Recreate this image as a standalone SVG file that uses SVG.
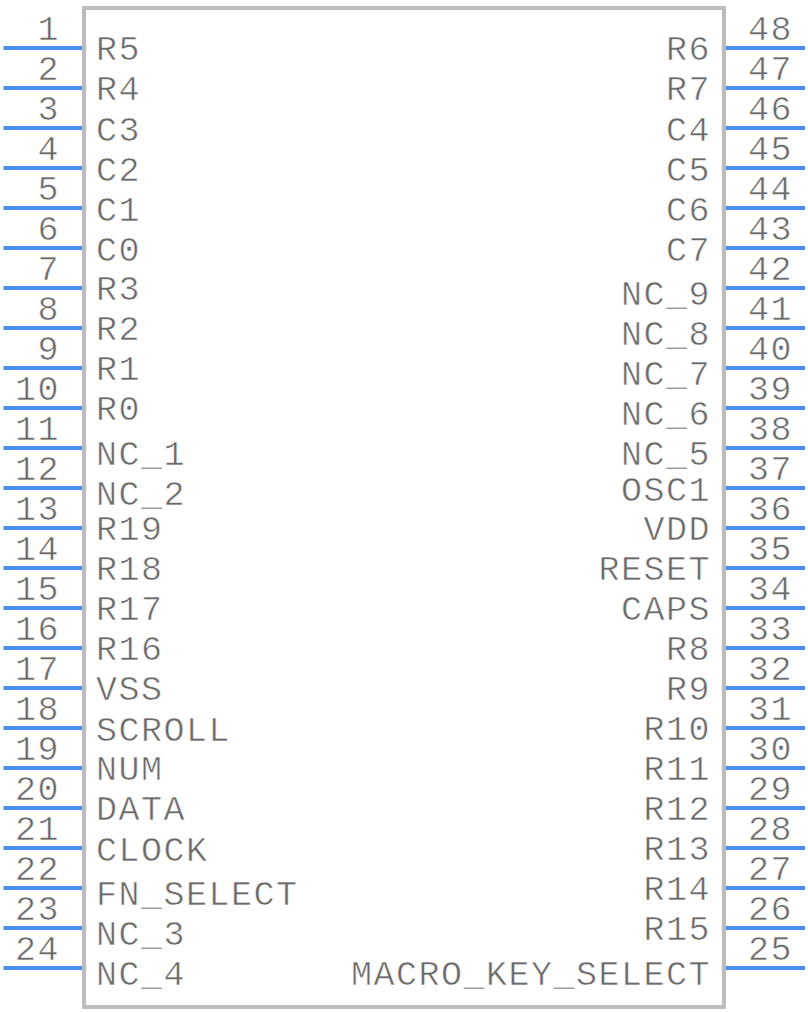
<svg xmlns="http://www.w3.org/2000/svg" width="808" height="1012" viewBox="0 0 808 1012">
<style>
text{font-family:"Liberation Mono",monospace;font-size:35px;letter-spacing:1.5px;fill:#6a6a6a;stroke:#fff;stroke-width:.55px;paint-order:fill stroke}
.e{text-anchor:end}
.p{stroke:#4a8ff0;stroke-width:4;fill:none}
#body rect{fill:#fff;stroke:#bdbdbd;stroke-width:4}
</style>
<g id="body"><rect x="84" y="8" width="640" height="999"/></g>
<g id="connectors">
<path class="p" d="M3.500 48H82M3.500 88H82M3.500 128H82M3.500 168H82M3.500 208H82M3.500 248H82M3.500 288H82M3.500 328H82M3.500 368H82M3.500 408H82M3.500 448H82M3.500 488H82M3.500 528H82M3.500 568H82M3.500 608H82M3.500 648H82M3.500 688H82M3.500 728H82M3.500 768H82M3.500 808H82M3.500 848H82M3.500 888H82M3.500 928H82M3.500 968H82"/>
<path class="p" d="M726 48H805M726 88H805M726 128H805M726 168H805M726 208H805M726 248H805M726 288H805M726 328H805M726 368H805M726 408H805M726 448H805M726 488H805M726 528H805M726 568H805M726 608H805M726 648H805M726 688H805M726 728H805M726 768H805M726 808H805M726 848H805M726 888H805M726 928H805M726 968H805"/>
</g>
<g id="pin1"><text class="e" x="60" y="40">1</text><text x="96" y="60">R5</text></g>
<g id="pin2"><text class="e" x="60" y="80">2</text><text x="96" y="100">R4</text></g>
<g id="pin3"><text class="e" x="60" y="120">3</text><text x="96" y="141">C3</text></g>
<g id="pin4"><text class="e" x="60" y="160">4</text><text x="96" y="181">C2</text></g>
<g id="pin5"><text class="e" x="60" y="200">5</text><text x="96" y="221">C1</text></g>
<g id="pin6"><text class="e" x="60" y="240">6</text><text x="96" y="261">C0</text></g>
<g id="pin7"><text class="e" x="60" y="280">7</text><text x="96" y="300">R3</text></g>
<g id="pin8"><text class="e" x="60" y="320">8</text><text x="96" y="340">R2</text></g>
<g id="pin9"><text class="e" x="60" y="360">9</text><text x="96" y="380">R1</text></g>
<g id="pin10"><text class="e" x="60" y="400">10</text><text x="96" y="420">R0</text></g>
<g id="pin11"><text class="e" x="60" y="440">11</text><text x="96" y="465">NC_1</text></g>
<g id="pin12"><text class="e" x="60" y="480">12</text><text x="96" y="505">NC_2</text></g>
<g id="pin13"><text class="e" x="60" y="520">13</text><text x="96" y="540">R19</text></g>
<g id="pin14"><text class="e" x="60" y="560">14</text><text x="96" y="580">R18</text></g>
<g id="pin15"><text class="e" x="60" y="600">15</text><text x="96" y="620">R17</text></g>
<g id="pin16"><text class="e" x="60" y="640">16</text><text x="96" y="660">R16</text></g>
<g id="pin17"><text class="e" x="60" y="680">17</text><text x="96" y="700">VSS</text></g>
<g id="pin18"><text class="e" x="60" y="720">18</text><text x="96" y="741">SCROLL</text></g>
<g id="pin19"><text class="e" x="60" y="760">19</text><text x="96" y="780">NUM</text></g>
<g id="pin20"><text class="e" x="60" y="800">20</text><text x="96" y="820">DATA</text></g>
<g id="pin21"><text class="e" x="60" y="840">21</text><text x="96" y="861">CLOCK</text></g>
<g id="pin22"><text class="e" x="60" y="880">22</text><text x="96" y="905">FN_SELECT</text></g>
<g id="pin23"><text class="e" x="60" y="920">23</text><text x="96" y="945">NC_3</text></g>
<g id="pin24"><text class="e" x="60" y="960">24</text><text x="96" y="985">NC_4</text></g>
<g id="pin25"><text x="748" y="960">25</text><text class="e" x="711" y="985">MACRO_KEY_SELECT</text></g>
<g id="pin26"><text x="748" y="920">26</text><text class="e" x="711" y="940">R15</text></g>
<g id="pin27"><text x="748" y="880">27</text><text class="e" x="711" y="900">R14</text></g>
<g id="pin28"><text x="748" y="840">28</text><text class="e" x="711" y="860">R13</text></g>
<g id="pin29"><text x="748" y="800">29</text><text class="e" x="711" y="820">R12</text></g>
<g id="pin30"><text x="748" y="760">30</text><text class="e" x="711" y="780">R11</text></g>
<g id="pin31"><text x="748" y="720">31</text><text class="e" x="711" y="740">R10</text></g>
<g id="pin32"><text x="748" y="680">32</text><text class="e" x="711" y="700">R9</text></g>
<g id="pin33"><text x="748" y="640">33</text><text class="e" x="711" y="660">R8</text></g>
<g id="pin34"><text x="748" y="600">34</text><text class="e" x="711" y="620">CAPS</text></g>
<g id="pin35"><text x="748" y="560">35</text><text class="e" x="711" y="580">RESET</text></g>
<g id="pin36"><text x="748" y="520">36</text><text class="e" x="711" y="540">VDD</text></g>
<g id="pin37"><text x="748" y="480">37</text><text class="e" x="711" y="501">OSC1</text></g>
<g id="pin38"><text x="748" y="440">38</text><text class="e" x="711" y="465">NC_5</text></g>
<g id="pin39"><text x="748" y="400">39</text><text class="e" x="711" y="425">NC_6</text></g>
<g id="pin40"><text x="748" y="360">40</text><text class="e" x="711" y="385">NC_7</text></g>
<g id="pin41"><text x="748" y="320">41</text><text class="e" x="711" y="345">NC_8</text></g>
<g id="pin42"><text x="748" y="280">42</text><text class="e" x="711" y="305">NC_9</text></g>
<g id="pin43"><text x="748" y="240">43</text><text class="e" x="711" y="261">C7</text></g>
<g id="pin44"><text x="748" y="200">44</text><text class="e" x="711" y="221">C6</text></g>
<g id="pin45"><text x="748" y="160">45</text><text class="e" x="711" y="181">C5</text></g>
<g id="pin46"><text x="748" y="120">46</text><text class="e" x="711" y="141">C4</text></g>
<g id="pin47"><text x="748" y="80">47</text><text class="e" x="711" y="100">R7</text></g>
<g id="pin48"><text x="748" y="40">48</text><text class="e" x="711" y="60">R6</text></g>
</svg>
